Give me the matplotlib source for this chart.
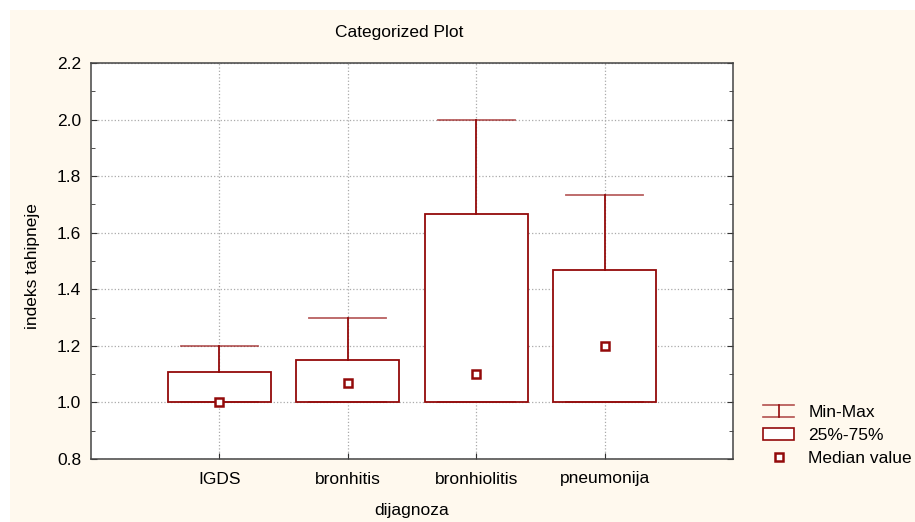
import matplotlib
matplotlib.use('Agg')
from matplotlib import pyplot as plt
from matplotlib.lines import Line2D
from matplotlib.patches import Rectangle, Patch
from matplotlib.legend_handler import HandlerBase
from matplotlib.ticker import MultipleLocator, FormatStrFormatter

categories = ['IGDS', 'bronhitis', 'bronhiolitis', 'pneumonija']
mins = [1.0, 1.0, 1.0, 1.0]
q1 = [1.0, 1.0, 1.0, 1.0]
medians = [1.0, 1.067, 1.1, 1.2]
q3 = [1.107, 1.15, 1.667, 1.467]
maxs = [1.2, 1.3, 2.0, 1.733]

red = '#930a0a'
cream = '#fff9ee'

plt.rcParams['font.family'] = ['Liberation Sans', 'DejaVu Sans']
plt.rcParams['font.size'] = 12.5


class MinMaxHandler(HandlerBase):
    # I-shaped symbol: cap, whisker, cap
    def create_artists(self, legend, orig_handle, xdescent, ydescent,
                       width, height, fontsize, trans):
        x0, y0 = -xdescent, -ydescent
        c = orig_handle.get_color()
        top = Line2D([x0, x0 + width], [y0 + height, y0 + height], color=c, lw=1.2, alpha=0.7)
        bot = Line2D([x0, x0 + width], [y0, y0], color=c, lw=1.2, alpha=0.7)
        mid = Line2D([x0 + width / 2] * 2, [y0, y0 + height], color=c, lw=1.2)
        for a in (top, bot, mid):
            a.set_transform(trans)
        return [top, bot, mid]


fig = plt.figure(figsize=(9.15, 5.22), dpi=100, facecolor='white')
fig.patches.append(Rectangle((10 / 915, 0), 1, 512 / 522, transform=fig.transFigure,
                             facecolor=cream, edgecolor='none', zorder=-10))
ax = fig.add_axes([91 / 915, 63 / 522, 642 / 915, 396 / 522])
ax.set_facecolor('white')

positions = list(range(1, len(categories) + 1))
stats = []
for lab, lo, a, m, b, hi in zip(categories, mins, q1, medians, q3, maxs):
    stats.append(dict(label=lab, whislo=lo, q1=a, med=m, q3=b, whishi=hi))

ax.bxp(stats, positions=positions, widths=0.8, capwidths=0.6, showfliers=False,
       patch_artist=True,
       boxprops=dict(facecolor='white', edgecolor=red, lw=1.3, zorder=3),
       whiskerprops=dict(color=red, lw=1.3, zorder=3),
       capprops=dict(color=red, lw=1.3, alpha=0.65, zorder=3),
       medianprops=dict(linestyle='none'))
ax.plot(positions, medians, 's', ms=6, mfc='white', mec=red, mew=1.8,
        linestyle='none', zorder=4)

ax.set_xlim(0, 5)
ax.set_ylim(0.8, 2.2)
ax.yaxis.set_major_locator(MultipleLocator(0.2))
ax.yaxis.set_minor_locator(MultipleLocator(0.1))
ax.yaxis.set_major_formatter(FormatStrFormatter('%.1f'))
ax.set_xticks(positions)
ax.set_xticklabels(categories)
ax.tick_params(axis='both', which='both', direction='in', right=True, color='#333333')
ax.tick_params(axis='y', which='major', length=4, pad=7)
ax.tick_params(axis='y', which='minor', length=3)
ax.tick_params(axis='x', which='major', length=4, pad=9)
ax.grid(True, which='major', linestyle=':', color='#aaaaaa', lw=0.9, zorder=0)
ax.set_axisbelow(True)
for s in ax.spines.values():
    s.set_color('#444444')
    s.set_linewidth(1.1)

fig.text(399 / 915, 1 - 32 / 522, 'Categorized Plot', ha='center', va='center')
fig.text(412 / 915, 1 - 510 / 522, 'dijagnoza', ha='center', va='center')
fig.text(33 / 915, 1 - 266 / 522, 'indeks tahipneje', rotation=90, ha='center', va='center')

h1 = Line2D([], [], color=red)
h2 = Patch(facecolor='white', edgecolor=red, lw=1.2)
h3 = Line2D([], [], marker='s', ms=6, mfc='white', mec=red, mew=1.8, linestyle='none')
fig.legend([h1, h2, h3], ['Min-Max', '25%-75%', 'Median value'],
           handler_map={h1: MinMaxHandler()},
           loc='upper left', bbox_to_anchor=(763 / 915, 1 - 405 / 522),
           frameon=False, borderpad=0, borderaxespad=0, handlelength=1.8,
           handletextpad=0.8, labelspacing=0.45)

fig.savefig('out.png', dpi=100, facecolor=fig.get_facecolor())
